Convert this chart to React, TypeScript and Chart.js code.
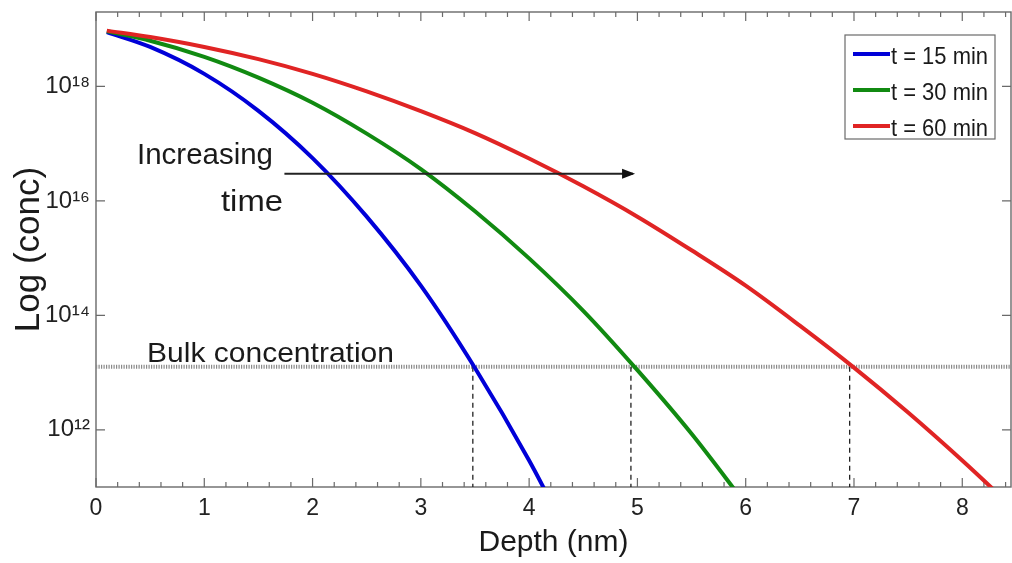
import React, { useEffect, useRef } from 'react';
import { Chart, registerables } from 'chart.js';

Chart.register(...registerables);

// ---- data ----
const depth15 = [0.1, 0.5, 1.0, 1.5, 2.0, 2.5, 3.0, 3.5, 4.0, 4.3];
const conc15 = [8.9e18, 4.9e18, 1.66e18, 3.75e17, 5.6e16, 5.3e15, 3.3e14, 1.2e13, 2.9e11, 2.4e10];

const depth30 = [0.1, 0.5, 1.0, 1.5, 2.0, 2.5, 3.0, 3.5, 4.0, 4.5, 5.0, 5.5, 6.0];
const conc30 = [9.2e18, 6.3e18, 3.3e18, 1.43e18, 5.2e17, 1.5e17, 3.6e16, 6.6e15, 9.9e14, 1.2e14, 1.1e13, 8.5e11, 5.0e10];

const depth60 = [0.1, 0.5, 1.0, 1.5, 2.0, 2.5, 3.0, 3.5, 4.0, 4.5, 5.0, 5.5, 6.0, 6.5, 7.0, 7.5, 8.0, 8.5];
const conc60 = [9.45e18, 7.3e18, 4.9e18, 3.0e18, 1.66e18, 8.2e17, 3.7e17, 1.53e17, 5.5e16, 1.8e16, 5.3e15, 1.37e15, 3.3e14, 6.6e13, 1.22e13, 2.0e12, 2.9e11, 3.8e10];

const seriesLabels = ['t = 15 min', 't = 30 min', 't = 60 min'];
const seriesColors = ['#0000d8', '#118a11', '#e02424'];

const bulkConc = 1.26e13;
const bulkDepths = [3.48, 4.94, 6.96];

const arrowDepths = [1.74, 4.96];
const arrowConc = 2.97e16;

const xTickValues = [0, 1, 2, 3, 4, 5, 6, 7, 8];
const yTickValues = [1e12, 1e14, 1e16, 1e18];

const X_MIN = 0;
const X_MAX = 8.45;
const Y_MIN = 1e11;
const Y_MAX = 2e19;

const FONT = "'Liberation Sans', Arial, sans-serif";

const SUP: Record<string, string> = { '0': '⁰', '1': '¹', '2': '²', '3': '³', '4': '⁴', '5': '⁵', '6': '⁶', '7': '⁷', '8': '⁸', '9': '⁹' };
const toSup = (n: number) => String(n).split('').map((c) => SUP[c] || c).join('');

function fitText(ctx: CanvasRenderingContext2D, text: string, x: number, y: number, size: number, width: number) {
  ctx.save();
  ctx.font = `${size}px ${FONT}`;
  const w = ctx.measureText(text).width;
  ctx.translate(x, y);
  ctx.scale(width / w, 1);
  ctx.textAlign = 'left';
  ctx.textBaseline = 'alphabetic';
  ctx.fillText(text, 0, 0);
  ctx.restore();
}

const framePlugin = {
  id: 'frame',
  beforeDatasetsDraw(chart: any) {
    const { ctx, chartArea: a, scales } = chart;
    const xs = scales.x;
    const ys = scales.y;
    ctx.save();
    ctx.strokeStyle = '#6a6a6a';
    ctx.lineWidth = 1.4;
    ctx.strokeRect(a.left, a.top, a.right - a.left, a.bottom - a.top);
    ctx.lineWidth = 1.2;
    ctx.beginPath();
    for (let i = 0; i <= 42; i++) {
      const v = i * 0.2;
      if (v > X_MAX) break;
      const px = xs.getPixelForValue(v);
      const len = i % 5 === 0 ? 9 : 5;
      ctx.moveTo(px, a.bottom);
      ctx.lineTo(px, a.bottom - len);
      ctx.moveTo(px, a.top);
      ctx.lineTo(px, a.top + len);
    }
    yTickValues.forEach((v) => {
      const py = ys.getPixelForValue(v);
      ctx.moveTo(a.left, py);
      ctx.lineTo(a.left + 9, py);
      ctx.moveTo(a.right, py);
      ctx.lineTo(a.right - 9, py);
    });
    ctx.stroke();
    ctx.restore();
  },
  afterDatasetsDraw(chart: any) {
    const { ctx, scales } = chart;
    const xs = scales.x;
    const ys = scales.y;
    ctx.save();
    // arrow head
    const tipX = xs.getPixelForValue(arrowDepths[1]);
    const tipY = ys.getPixelForValue(arrowConc);
    ctx.fillStyle = '#111';
    ctx.beginPath();
    ctx.moveTo(tipX + 2, tipY);
    ctx.lineTo(tipX - 11, tipY - 5);
    ctx.lineTo(tipX - 11, tipY + 5);
    ctx.closePath();
    ctx.fill();

    // annotations
    ctx.fillStyle = '#1a1a1a';
    fitText(ctx, 'Increasing', 137, 164, 30, 136);
    fitText(ctx, 'time', 221, 211, 30, 62);
    fitText(ctx, 'Bulk concentration', 147, 362, 28, 247);

    // legend
    const bx = 845, by = 35, bw = 150, bh = 104;
    ctx.fillStyle = '#ffffff';
    ctx.fillRect(bx, by, bw, bh);
    ctx.strokeStyle = '#6a6a6a';
    ctx.lineWidth = 1.2;
    ctx.strokeRect(bx, by, bw, bh);
    const lineYs = [54, 90, 126];
    const baseYs = [64, 100, 136];
    seriesLabels.forEach((lab, i) => {
      ctx.strokeStyle = seriesColors[i];
      ctx.lineWidth = 4;
      ctx.beginPath();
      ctx.moveTo(853, lineYs[i]);
      ctx.lineTo(890, lineYs[i]);
      ctx.stroke();
      ctx.fillStyle = '#1a1a1a';
      fitText(ctx, lab, 891, baseYs[i], 24, 97);
    });
    ctx.restore();
  },
};

export default function App() {
  const ref = useRef<HTMLCanvasElement | null>(null);

  useEffect(() => {
    document.body.style.margin = '0';
    const canvas = ref.current;
    if (!canvas) return;

    const curve = (xs: number[], ys: number[], i: number) => ({
      label: seriesLabels[i],
      data: xs.map((x, k) => ({ x, y: ys[k] })),
      borderColor: seriesColors[i],
      borderWidth: 4,
      pointRadius: 0,
      cubicInterpolationMode: 'monotone' as const,
      order: 2 - i,
    });

    const datasets: any[] = [
      curve(depth15, conc15, 0),
      curve(depth30, conc30, 1),
      curve(depth60, conc60, 2),
      {
        label: 'bulk',
        data: [{ x: X_MIN, y: bulkConc }, { x: X_MAX, y: bulkConc }],
        borderColor: '#8a8a8a',
        borderWidth: 4,
        borderDash: [1.2, 1.3],
        pointRadius: 0,
        order: 10,
      },
      ...bulkDepths.map((d) => ({
        label: 'drop',
        data: [{ x: d, y: bulkConc }, { x: d, y: Y_MIN }],
        borderColor: '#222',
        borderWidth: 1.3,
        borderDash: [5, 4],
        pointRadius: 0,
        order: 9,
      })),
      {
        label: 'arrow',
        data: arrowDepths.map((d) => ({ x: d, y: arrowConc })),
        borderColor: '#222',
        borderWidth: 2,
        pointRadius: 0,
        order: -1,
      },
    ];

    const chart = new Chart(canvas, {
      type: 'line',
      data: { datasets },
      options: {
        animation: false,
        responsive: false,
        maintainAspectRatio: false,
        layout: { padding: { left: 0, right: 1, top: 12, bottom: 0 } },
        plugins: { legend: { display: false }, tooltip: { enabled: false } },
        scales: {
          x: {
            type: 'linear',
            min: X_MIN,
            max: X_MAX,
            grid: { display: false, drawTicks: false },
            border: { display: false },
            afterBuildTicks: (s: any) => {
              s.ticks = xTickValues.map((v) => ({ value: v }));
            },
            afterFit: (s: any) => {
              s.height = 76;
              s.paddingLeft = 0;
              s.paddingRight = 0;
            },
            ticks: {
              padding: 8,
              color: '#222',
              font: { family: FONT, size: 23 },
              maxRotation: 0,
              autoSkip: false,
              callback: (v: any) => String(v),
            },
            title: {
              display: true,
              text: 'Depth (nm)',
              color: '#1a1a1a',
              font: { family: FONT, size: 30 },
              padding: { top: 0, bottom: 2 },
            },
          },
          y: {
            type: 'logarithmic',
            min: Y_MIN,
            max: Y_MAX,
            grid: { display: false, drawTicks: false },
            border: { display: false },
            afterBuildTicks: (s: any) => {
              s.ticks = yTickValues.map((v) => ({ value: v }));
            },
            afterFit: (s: any) => {
              s.width = 96;
              s.paddingTop = 0;
              s.paddingBottom = 0;
            },
            ticks: {
              padding: 6,
              color: '#222',
              font: { family: FONT, size: 24 },
              autoSkip: false,
              callback: (v: any) => '10' + toSup(Math.round(Math.log10(Number(v)))),
            },
            title: {
              display: true,
              text: 'Log (conc)',
              color: '#1a1a1a',
              font: { family: FONT, size: 35 },
              padding: { top: 8, bottom: 0 },
            },
          },
        },
      },
      plugins: [framePlugin],
    });

    return () => chart.destroy();
  }, []);

  return (
    <div style={{ width: 1012, height: 563, background: '#fff' }}>
      <canvas ref={ref} width={1012} height={563} style={{ display: 'block', width: 1012, height: 563 }} />
    </div>
  );
}
